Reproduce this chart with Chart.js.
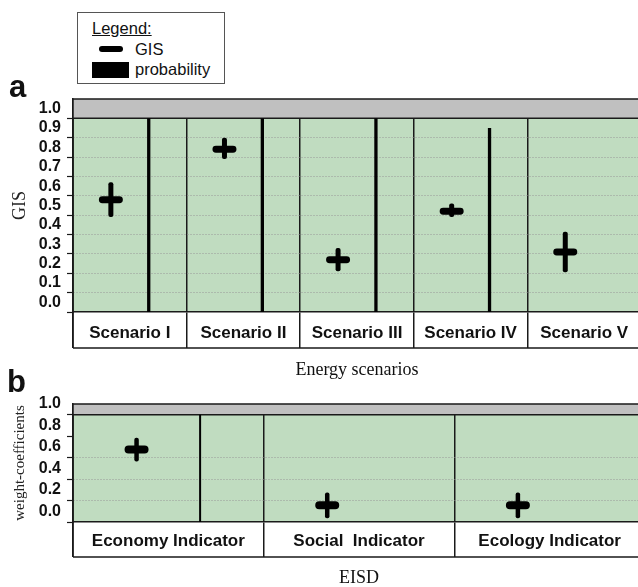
<!DOCTYPE html>
<html>
<head>
<meta charset="utf-8">
<script src="https://cdn.jsdelivr.net/npm/chart.js@4/dist/chart.umd.min.js"></script>
<style>
  html, body { margin: 0; padding: 0; background: #fff; }
  #page { position: relative; width: 638px; height: 587px; overflow: hidden;
          font-family: 'Liberation Sans', Arial, sans-serif; color: #111; }
  canvas { position: absolute; left: 0; }
  #chartA { top: 85px; }
  #chartB { top: 390px; }
  .tag { position: absolute; font-weight: bold; font-size: 31px; line-height: 30px; z-index: 2; }
  #legend { position: absolute; left: 77px; top: 12px; width: 146px; height: 70px;
            border: 1px solid #555; background: #fff; z-index: 2; font-size: 16.5px; }
  #legend .row { position: absolute; left: 0; height: 18px; line-height: 18px; }
  #legend .title { left: 14px; top: 6px; text-decoration: underline; }
  #legend .pill { position: absolute; left: 21px; top: 33px; width: 24px; height: 6px;
                  border-radius: 3px; background: #000; }
  #legend .block { position: absolute; left: 14px; top: 49px; width: 37px; height: 16px; background: #000; }
  #legend .t1 { left: 57px; top: 27px; }
  #legend .t2 { left: 57px; top: 47px; }
</style>
</head>
<body>
<div id="page">
  <div id="legend">
    <div class="row title">Legend:</div>
    <div class="pill"></div><div class="row t1">GIS</div>
    <div class="block"></div><div class="row t2">probability</div>
  </div>
  <div class="tag" style="left:9px; top:72px;">a</div>
  <div class="tag" style="left:7px; top:367px;">b</div>
  <canvas id="chartA" width="641" height="300"></canvas>
  <canvas id="chartB" width="645" height="197"></canvas>
</div>
<script>
// ---- Panel a: GIS of the energy scenarios ----
const scenarioLabels = ['Scenario I', 'Scenario II', 'Scenario III', 'Scenario IV', 'Scenario V'];
const gisValues = [0.53, 0.79, 0.22, 0.47, 0.26];
const gisLow    = [0.44, 0.74, 0.16, 0.44, 0.155];
const gisHigh   = [0.62, 0.85, 0.28, 0.51, 0.365];
const scenarioProbability = [0.95, 0.95, 0.95, 0.90, null];
const gisTicks = [0.0, 0.1, 0.2, 0.3, 0.4, 0.5, 0.6, 0.7, 0.8, 0.9, 1.0];
const gisDottedLines = [0.05, 0.15, 0.25, 0.35, 0.45, 0.55, 0.65, 0.75, 0.85];

// ---- Panel b: weight coefficients of the EISD indicators ----
const indicatorLabels = ['Economy Indicator', 'Social  Indicator', 'Ecology Indicator'];
const weightValues = [0.575, 0.056, 0.056];
const weightLow    = [0.463, -0.065, -0.065];
const weightHigh   = [0.685, 0.176, 0.176];
const indicatorProbability = [0.9, null, null];
const weightTicks = [0.0, 0.2, 0.4, 0.6, 0.8, 1.0];
const weightDottedLines = [0.1, 0.3, 0.5];

const INK = '#1a1a1a';
const near = (a, b) => Math.abs(a - b) < 1e-6;

// green plotting field, grey cap band above it, and the label box outline
const bandsPlugin = {
  id: 'panelBands',
  beforeDraw(chart, args, opts) {
    const { ctx, chartArea: a, scales: { y } } = chart;
    const yb = y.getPixelForValue(opts.from);
    ctx.save();
    ctx.fillStyle = '#c0dcc0';
    ctx.fillRect(a.left, yb, a.right - a.left, a.bottom - yb);
    ctx.restore();
  },
  beforeDatasetsDraw(chart, args, opts) {
    const { ctx, chartArea: a, scales: { y, x } } = chart;
    const yb = y.getPixelForValue(opts.from);
    const boxBottom = x.top + x.options.grid.tickLength;
    ctx.save();
    ctx.fillStyle = '#c0c0c0';
    ctx.fillRect(a.left, a.top, a.right - a.left, yb - a.top);
    ctx.strokeStyle = INK;
    ctx.lineWidth = 1.5;
    ctx.beginPath();
    ctx.moveTo(a.left, a.top); ctx.lineTo(a.right, a.top);
    ctx.moveTo(a.left, yb); ctx.lineTo(a.right, yb);
    ctx.moveTo(a.left, a.top); ctx.lineTo(a.left, boxBottom);
    ctx.moveTo(a.left, boxBottom); ctx.lineTo(a.right, boxBottom);
    ctx.stroke();
    ctx.restore();
  }
};

function makePanel(id, o) {
  const step = o.ticks[1] - o.ticks[0];
  return new Chart(document.getElementById(id), {
    type: 'bar',
    data: {
      labels: o.labels,
      datasets: [
        { label: 'GIS range', data: o.low.map((l, i) => [l, o.high[i]]), stack: 'gis',
          backgroundColor: '#000', maxBarThickness: o.stemW, borderRadius: 2, borderSkipped: false },
        { label: 'GIS', data: o.values.map(v => [v - o.pillH, v + o.pillH]), stack: 'gis',
          backgroundColor: '#000', maxBarThickness: 24, borderRadius: 4, borderSkipped: false },
        { label: 'probability', data: o.prob, stack: 'prob', base: o.min,
          backgroundColor: '#000', maxBarThickness: o.probW, borderSkipped: false }
      ]
    },
    options: {
      responsive: false,
      animation: false,
      events: [],
      layout: { padding: { top: o.padTop, left: 0, right: 0, bottom: 0 } },
      datasets: { bar: { categoryPercentage: 2 / 3, barPercentage: 1, grouped: true } },
      plugins: {
        legend: { display: false },
        tooltip: { enabled: false },
        panelBands: { from: o.bandFrom }
      },
      scales: {
        x: {
          type: 'category',
          offset: true,
          grid: { offset: true, color: INK, lineWidth: 1.5, tickLength: o.boxH,
                  tickColor: INK, tickWidth: 1.5, drawOnChartArea: true },
          border: { display: true, color: INK, width: 1.5 },
          ticks: { padding: o.labelPad, color: '#111', maxRotation: 0, autoSkip: false,
                   font: { family: "'Liberation Sans', Arial, sans-serif", weight: 'bold', size: 17 } },
          title: { display: true, text: o.xTitle, color: '#111',
                   font: { family: "'Liberation Serif', 'Times New Roman', serif", size: 18, lineHeight: 1 },
                   padding: { top: 0, bottom: o.xTitlePad } },
          afterFit: s => { s.height = o.xH; }
        },
        y: {
          type: 'linear', position: 'left', weight: 1,
          min: o.min, max: o.max, stacked: false,
          afterBuildTicks: s => { s.ticks = o.ticks.map(v => ({ value: v })); },
          grid: { display: false, drawTicks: false },
          border: { display: false },
          ticks: { padding: 6, color: '#111', autoSkip: false, callback: v => Number(v).toFixed(1),
                   font: { family: "'Liberation Sans', Arial, sans-serif", weight: 'bold', size: 16, lineHeight: 1 } },
          title: { display: true, text: o.yTitle, color: '#222',
                   font: { family: "'Liberation Serif', 'Times New Roman', serif", size: o.yTitleSize, lineHeight: 1 },
                   padding: { top: o.yTitlePad, bottom: 0 } },
          afterFit: s => { s.width = 67; }
        },
        yg: {
          type: 'linear', position: 'left', weight: 0,
          min: o.min, max: o.max,
          afterBuildTicks: s => { s.ticks = o.ticks.map(v => ({ value: v - step / 2 })); },
          ticks: { display: false, autoSkip: false },
          grid: {
            color: c => (c.tick && o.dotted.some(d => near(d, c.tick.value))) ? '#999999' : 'rgba(0,0,0,0)',
            lineWidth: 1, tickLength: 6, tickColor: INK, tickWidth: 1.2, drawTicks: true
          },
          border: { display: true, color: INK, width: 1.5, dash: [1, 2] },
          afterFit: s => { s.width = 6; }
        }
      }
    },
    plugins: [bandsPlugin]
  });
}

makePanel('chartA', {
  labels: scenarioLabels, values: gisValues, low: gisLow, high: gisHigh, prob: scenarioProbability,
  ticks: gisTicks, dotted: gisDottedLines, min: -0.05, max: 1.05, bandFrom: 0.95,
  pillH: 0.018, stemW: 5, probW: 3.3,
  padTop: 12, boxH: 36, labelPad: -25, xH: 73, xTitle: 'Energy scenarios', xTitlePad: 6,
  yTitle: 'GIS', yTitleSize: 18, yTitlePad: 11
});

makePanel('chartB', {
  labels: indicatorLabels, values: weightValues, low: weightLow, high: weightHigh, prob: indicatorProbability,
  ticks: weightTicks, dotted: weightDottedLines, min: -0.1, max: 1.0, bandFrom: 0.9,
  pillH: 0.037, stemW: 4.5, probW: 2,
  padTop: 13, boxH: 35, labelPad: -26, xH: 65, xTitle: 'EISD', xTitlePad: 0,
  yTitle: 'weight-coefficients', yTitleSize: 15, yTitlePad: 13
});
</script>
</body>
</html>
